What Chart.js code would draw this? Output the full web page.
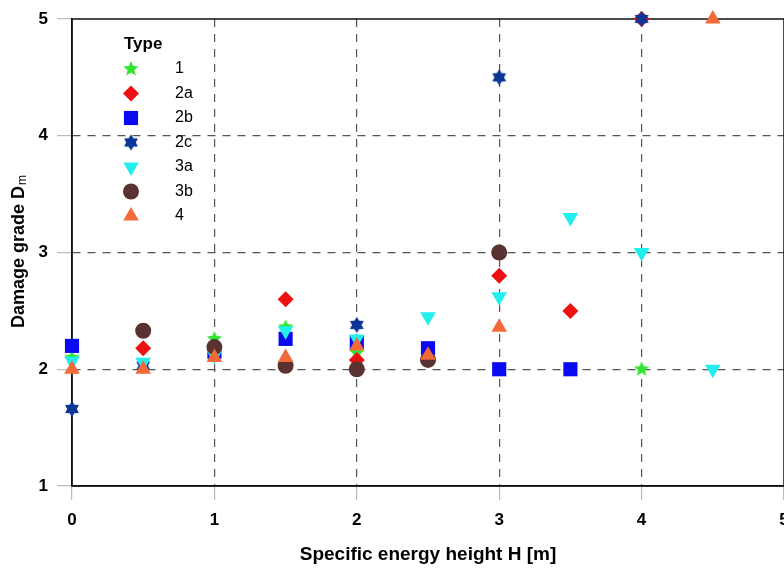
<!DOCTYPE html>
<html>
<head>
<meta charset="utf-8">
<script src="https://cdn.jsdelivr.net/npm/chart.js@4/dist/chart.umd.min.js"></script>
<style>
  html, body { margin: 0; padding: 0; background: #fff; overflow: hidden; }
  #wrap { width: 784px; height: 570px; overflow: hidden; }
</style>
</head>
<body>
<div id="wrap"><canvas id="dvCanvas" width="794" height="570"></canvas></div>
<script>
// data: H [m] and damage grade Dm per building type
var typeNames = ['1', '2a', '2b', '2c', '3a', '3b', '4'];

var type1X = [0, 1, 1.5, 2, 4];
var type1Y = [2.1, 2.26, 2.36, 2.14, 2.0];

var type2aX = [0.5, 1.5, 2, 3, 3.5, 4];
var type2aY = [2.18, 2.6, 2.08, 2.8, 2.5, 5.0];

var type2bX = [0, 1, 1.5, 2, 2.5, 3, 3.5];
var type2bY = [2.2, 2.15, 2.26, 2.23, 2.18, 2.0, 2.0];

var type2cX = [0, 0.5, 2, 3, 4];
var type2cY = [1.66, 2.03, 2.38, 4.5, 5.0];

var type3aX = [0, 0.5, 1, 1.5, 2, 2.5, 3, 3.5, 4, 4.5];
var type3aY = [2.07, 2.06, 2.12, 2.33, 2.26, 2.45, 2.62, 3.3, 3.0, 2.0];

var type3bX = [0.5, 1, 1.5, 2, 2.5, 3];
var type3bY = [2.33, 2.19, 2.03, 2.0, 2.08, 3.0];

var type4X = [0, 0.5, 1, 1.5, 2, 2.5, 3, 4.5];
var type4Y = [2.0, 2.0, 2.1, 2.1, 2.2, 2.12, 2.36, 5.0];

var xTicks = [0, 1, 2, 3, 4, 5];
var yTicks = [1, 2, 3, 4, 5];

var FONT = '"Liberation Sans", Arial, sans-serif';

// small marker images for the two star shapes
function starImage(points, outer, inner, color) {
    var size = outer * 2 + 2;
    var c = document.createElement('canvas');
    c.width = size; c.height = size;
    var g = c.getContext('2d');
    g.fillStyle = color;
    g.beginPath();
    for (var i = 0; i < points * 2; i++) {
        var r = (i % 2 === 0) ? outer : inner;
        var a = -Math.PI / 2 + i * Math.PI / points;
        var px = size / 2 + r * Math.cos(a);
        var py = size / 2 + r * Math.sin(a);
        if (i === 0) g.moveTo(px, py); else g.lineTo(px, py);
    }
    g.closePath();
    g.fill();
    return c;
}

var colors = ['#2fe52f', '#ee1111', '#0a0af0', '#0b3597', '#22eeee', '#5a3232', '#f26a38'];
var star5 = starImage(5, 8, 3.6, colors[0]);
var star6 = starImage(6, 8, 4.8, colors[3]);

function pts(xs, ys) {
    var out = [];
    for (var i = 0; i < xs.length; i++) out.push({ x: xs[i], y: ys[i] });
    return out;
}

var seriesX = [type1X, type2aX, type2bX, type2cX, type3aX, type3bX, type4X];
var seriesY = [type1Y, type2aY, type2bY, type2cY, type3aY, type3bY, type4Y];
var styles = [
    { pointStyle: star5, radius: 8, rotation: 0 },
    { pointStyle: 'rectRot', radius: 8, rotation: 0 },
    { pointStyle: 'rect', radius: 10, rotation: 0 },
    { pointStyle: star6, radius: 8, rotation: 0 },
    { pointStyle: 'triangle', radius: 9, rotation: 180 },
    { pointStyle: 'circle', radius: 8, rotation: 0 },
    { pointStyle: 'triangle', radius: 9, rotation: 0 }
];

var datasets = [];
for (var k = 0; k < typeNames.length; k++) {
    datasets.push({
        label: typeNames[k],
        data: pts(seriesX[k], seriesY[k]),
        backgroundColor: colors[k],
        borderColor: colors[k],
        borderWidth: 0,
        pointStyle: styles[k].pointStyle,
        pointRadius: styles[k].radius,
        pointHoverRadius: styles[k].radius,
        rotation: styles[k].rotation,
        order: typeNames.length - k,
        clip: false
    });
}

// frame round the plot area (top and right too)
var framePlugin = {
    id: 'frame',
    beforeDatasetsDraw: function (chart) {
        var a = chart.chartArea, ctx = chart.ctx;
        ctx.save();
        ctx.strokeStyle = '#111';
        ctx.lineWidth = 1.5;
        ctx.setLineDash([]);
        ctx.strokeRect(a.left, a.top, a.right - a.left, a.bottom - a.top);
        ctx.restore();
    }
};

// legend in the upper left corner and y title with subscript
var legendPlugin = {
    id: 'typeLegend',
    afterDraw: function (chart) {
        var ctx = chart.ctx;
        ctx.save();
        ctx.fillStyle = '#000';
        ctx.textBaseline = 'middle';
        ctx.textAlign = 'left';
        ctx.font = 'bold 17px ' + FONT;
        ctx.fillText('Type', 124, 44);
        ctx.font = '16px ' + FONT;
        for (var i = 0; i < typeNames.length; i++) {
            var y = 69 + i * 24.5;
            ctx.fillStyle = colors[i];
            ctx.strokeStyle = colors[i];
            Chart.helpers.drawPoint(ctx, {
                pointStyle: styles[i].pointStyle,
                rotation: styles[i].rotation,
                radius: styles[i].radius,
                borderWidth: 0
            }, 131, y);
            ctx.fillStyle = '#000';
            ctx.fillText(typeNames[i], 175, y);
        }
        // y axis title
        ctx.translate(19, 252);
        ctx.rotate(-Math.PI / 2);
        ctx.font = 'bold 18px ' + FONT;
        var main = 'Damage grade D';
        var w = ctx.measureText(main).width;
        ctx.font = '12px ' + FONT;
        var ws = ctx.measureText('m').width;
        var x0 = -(w + ws) / 2;
        ctx.font = 'bold 18px ' + FONT;
        ctx.fillText(main, x0, 0);
        ctx.font = '12px ' + FONT;
        ctx.fillText('m', x0 + w + 1, 4);
        ctx.restore();
    }
};

var ctx = document.getElementById('dvCanvas').getContext('2d');
var myChart = new Chart(ctx, {
    type: 'scatter',
    data: { datasets: datasets },
    options: {
        responsive: false,
        animation: false,
        events: [],
        layout: { padding: { top: 19, right: 0, left: 0, bottom: 0 } },
        plugins: {
            legend: { display: false },
            tooltip: { enabled: false }
        },
        scales: {
            x: {
                type: 'linear',
                min: 0,
                max: 5,
                afterBuildTicks: function (s) { s.ticks = xTicks.map(function (v) { return { value: v }; }); },
                afterFit: function (s) { s.paddingRight = 0; s.paddingLeft = 0; s.height = 84; },
                grid: {
                    color: function (c) { return (c.tick.value === 0 || c.tick.value === 5) ? 'rgba(0,0,0,0)' : '#555'; },
                    tickColor: '#bbb',
                    lineWidth: 1.2,
                    tickLength: 14,
                    tickBorderDash: []
                },
                border: { display: true, color: '#111', width: 1.5, dash: [8, 7] },
                ticks: {
                    padding: 10,
                    color: '#000',
                    font: { family: FONT, size: 17, weight: 'bold' }
                },
                title: {
                    display: true,
                    text: 'Specific energy height H [m]',
                    color: '#000',
                    font: { family: FONT, size: 19, weight: 'bold' },
                    padding: { top: 4, bottom: 4 }
                }
            },
            y: {
                type: 'linear',
                min: 1,
                max: 5,
                afterBuildTicks: function (s) { s.ticks = yTicks.map(function (v) { return { value: v }; }); },
                afterFit: function (s) { s.width = 72; s.paddingTop = 0; s.paddingBottom = 0; },
                grid: {
                    color: function (c) { return (c.tick.value === 1 || c.tick.value === 5) ? 'rgba(0,0,0,0)' : '#555'; },
                    tickColor: '#bbb',
                    lineWidth: 1.2,
                    tickLength: 15,
                    tickBorderDash: []
                },
                border: { display: true, color: '#111', width: 1.5, dash: [8, 7] },
                ticks: {
                    padding: 9,
                    color: '#000',
                    font: { family: FONT, size: 17, weight: 'bold' }
                },
                title: { display: false }
            }
        }
    },
    plugins: [framePlugin, legendPlugin]
});
</script>
</body>
</html>
